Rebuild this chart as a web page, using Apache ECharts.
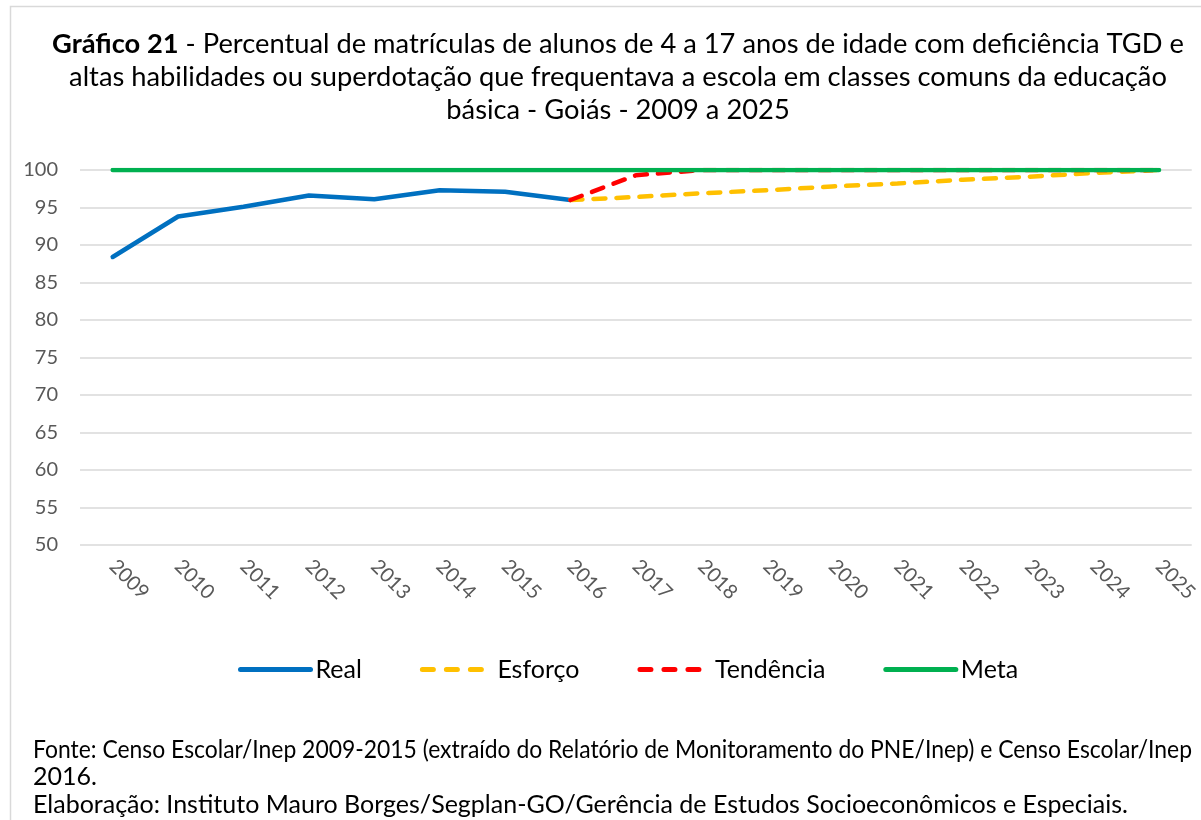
<!DOCTYPE html>
<html>
<head>
<meta charset="utf-8">
<script src="https://cdn.jsdelivr.net/npm/echarts@6/dist/echarts.min.js"></script>
<style>
  html, body { margin: 0; padding: 0; background: #fff; }
  #chart { width: 1201px; height: 820px; }
</style>
</head>
<body>
<div id="chart"></div>
<script>
const years = ['2009', '2010', '2011', '2012', '2013', '2014', '2015', '2016', '2017',
  '2018', '2019', '2020', '2021', '2022', '2023', '2024', '2025'];
const real = [88.4, 93.8, 95.1, 96.6, 96.1, 97.3, 97.1, 96.0];
const esforco = [null, null, null, null, null, null, null,
  96.0, 96.4, 96.9, 97.3, 97.8, 98.2, 98.7, 99.1, 99.6, 100];
const tendencia = [null, null, null, null, null, null, null,
  96.0, 99.3, 100, 100, 100, 100, 100, 100, 100, 100];
const meta = [100, 100, 100, 100, 100, 100, 100, 100, 100,
  100, 100, 100, 100, 100, 100, 100, 100];
const yTicks = { min: 50, max: 100, step: 5 };

const FONT = 'Lato, "Open Sans", sans-serif';
const footLine1 = 'Fonte: Censo Escolar/Inep 2009-2015 (extraído do Relatório de Monitoramento do PNE/Inep) e Censo Escolar/Inep';
const footLine2 = '2016.';
const footLine3 = 'Elaboração: Instituto Mauro Borges/Segplan-GO/Gerência de Estudos Socioeconômicos e Especiais.';

const chart = echarts.init(document.getElementById('chart'), null, { renderer: 'canvas' });

// first footer line is justified in the source: squeeze it to fill the width
const fitLine = (text, x0, x1, y, fontSize) => {
  const ctx = document.createElement('canvas').getContext('2d');
  ctx.font = fontSize + 'px ' + FONT;
  const w = ctx.measureText(text).width;
  return {
    type: 'text',
    x: x0,
    y,
    scaleX: (x1 - x0) / w,
    style: { text, fontSize, fontFamily: FONT, fill: '#000' },
  };
};

const serie = {
  type: 'line',
  symbol: 'none',
  smooth: false,
  connectNulls: false,
};

const dash = (color) => ({ color, width: 4.5, type: [12, 11], cap: 'round' });
const legendDash = { width: 5, type: [11, 13], cap: 'round' };

chart.setOption({
  animation: false,
  textStyle: { fontFamily: FONT },
  title: {
    left: 613,
    top: 23,
    textAlign: 'center',
    text: '{b|Gráfico 21}{n| - Percentual de matrículas de alunos de 4 a 17 anos de idade com deficiência TGD e}\n'
      + '{n|altas habilidades ou superdotação que frequentava a escola em classes comuns da educação}\n'
      + '{n|básica - Goiás - 2009 a 2025}',
    textStyle: {
      rich: {
        b: { fontSize: 27.3, fontWeight: 'bold', color: '#000', fontFamily: FONT, lineHeight: 33 },
        n: { fontSize: 27.3, fontWeight: 'normal', color: '#000', fontFamily: FONT, lineHeight: 33 },
      },
    },
  },
  legend: {
    top: 652,
    left: 233,
    itemWidth: 70,
    itemHeight: 20,
    itemGap: 58,
    itemStyle: { opacity: 0 },
    lineStyle: { width: 5 },
    textStyle: { fontSize: 25, color: '#000', fontFamily: FONT },
    data: [
      'Real',
      { name: 'Esforço', lineStyle: legendDash },
      { name: 'Tendência', lineStyle: legendDash },
      'Meta',
    ],
  },
  grid: { left: 80, right: 8, top: 170, bottom: 275 },
  xAxis: {
    type: 'category',
    data: years,
    boundaryGap: true,
    axisLine: { show: false },
    axisTick: { show: false },
    axisLabel: { rotate: -45, fontSize: 20, color: '#595959', margin: 18, fontFamily: FONT },
  },
  yAxis: {
    type: 'value',
    min: yTicks.min,
    max: yTicks.max,
    interval: yTicks.step,
    axisLine: { show: false },
    axisTick: { show: false },
    axisLabel: { fontSize: 20, color: '#595959', margin: 22, fontFamily: FONT },
    splitLine: { lineStyle: { color: '#d9d9d9', width: 1.5 } },
  },
  series: [
    { ...serie, name: 'Real', data: real, lineStyle: { color: '#0070c0', width: 4.5, cap: 'round' }, itemStyle: { color: '#0070c0' } },
    { ...serie, name: 'Esforço', data: esforco, lineStyle: dash('#ffc000'), itemStyle: { color: '#ffc000' } },
    { ...serie, name: 'Tendência', data: tendencia, lineStyle: dash('#ff0000'), itemStyle: { color: '#ff0000' } },
    { ...serie, name: 'Meta', data: meta, lineStyle: { color: '#00b050', width: 4.5, cap: 'round' }, itemStyle: { color: '#00b050' } },
  ],
  graphic: [
    {
      type: 'rect',
      shape: { x: 10.5, y: 6.5, width: 1300, height: 900 },
      style: { fill: 'none', stroke: '#d9d9d9', lineWidth: 1.5 },
      silent: true,
    },
    fitLine(footLine1, 33, 1192, 737, 25),
    { type: 'text', left: 33, top: 764, style: { text: footLine2, fontSize: 25, fontFamily: FONT, fill: '#000' } },
    { type: 'text', left: 33, top: 792, style: { text: footLine3, fontSize: 25, fontFamily: FONT, fill: '#000' } },
  ],
});
</script>
</body>
</html>
